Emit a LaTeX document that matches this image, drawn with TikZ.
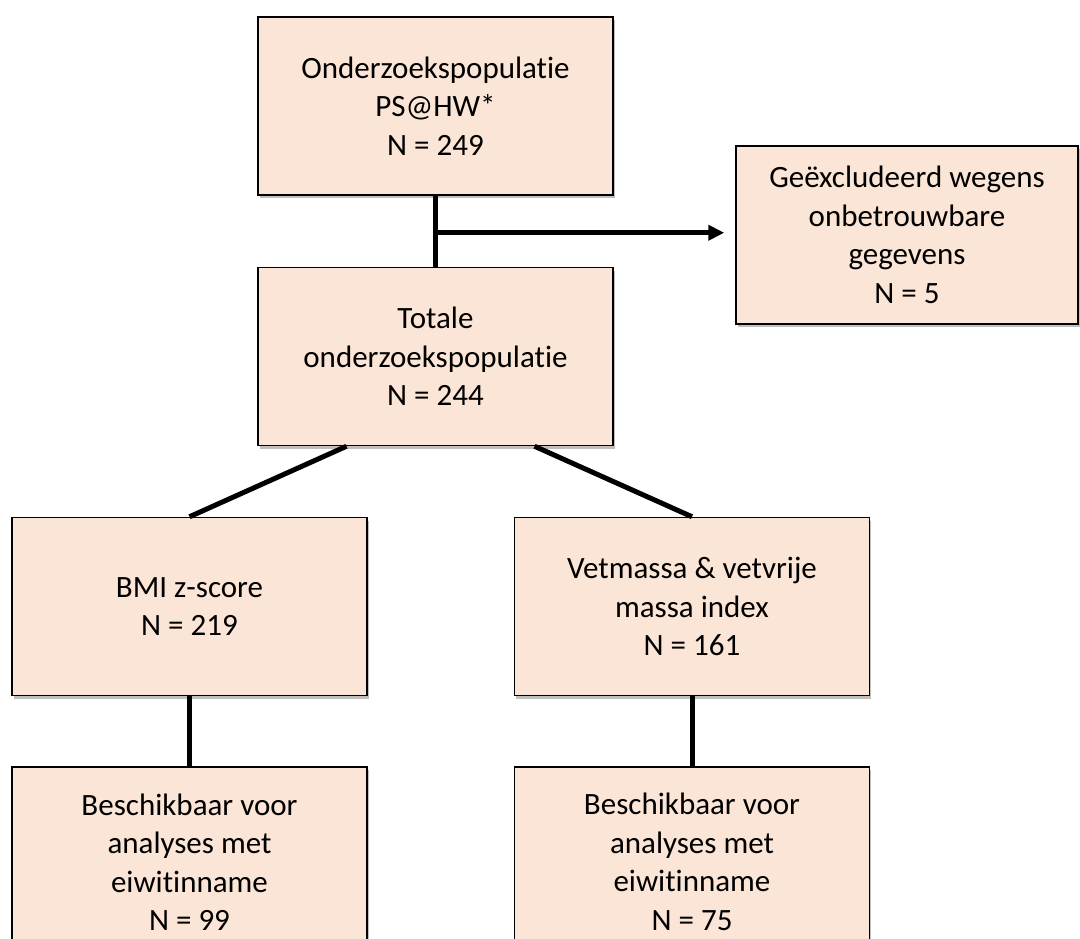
\documentclass[tikz,border=0pt]{standalone}
\usepackage{fontspec}
\setmainfont{Carlito}[Ligatures=NoCommon]
\usetikzlibrary{arrows.meta, positioning, shadows}
\definecolor{peach}{HTML}{FBE5D6}
\tikzset{
  box/.style={rectangle, draw, line width=1.5pt, fill=peach, align=center, inner sep=3pt,
    minimum width=355pt, minimum height=178pt, font=\fontsize{31}{38.5}\selectfont,
    drop shadow={shadow xshift=1.5pt, shadow yshift=-3pt, opacity=0.25, fill=black}},
  link/.style={line width=5pt},
  line/.style={line width=4.5pt, -{Triangle[length=16pt, width=15pt]}}
}

\begin{document}
\begin{tikzpicture}[node distance=71pt and 146pt]
    \useasboundingbox (0,0) rectangle (1080pt,-939pt);
    \node[box] (pop) at (435.5pt,-106pt) {Onderzoekspopulatie\\PS@HW*\\N = 249};
    \node[box, below=of pop] (tot) {Totale\\onderzoekspopulatie\\N = 244};
    \node[box, minimum width=342pt] (excl) at (907pt,-235pt) {Geëxcludeerd wegens\\onbetrouwbare\\gegevens\\N = 5};
    \node[box] (bmi) at (189.5pt,-606.5pt) {BMI z-score\\N = 219};
    \node[box, right=of bmi] (vet) {Vetmassa \& vetvrije\\massa index\\N = 161};
    \node[box, minimum height=190pt, below=70pt of bmi] (bmieiw) {Beschikbaar voor\\analyses met\\eiwitinname\\N = 99};
    \node[box, minimum height=190pt, below=70pt of vet] (veteiw) {Beschikbaar voor\\analyses met\\eiwitinname\\N = 75};
    \coordinate (split) at ([yshift=-37pt]pop.south);
    \draw[link] (pop) -- (tot);
    \draw[line] (split) -- ([xshift=-11pt]excl.west |- split);
    \draw[link] ([xshift=-89pt]tot.south) -- (bmi.north);
    \draw[link] ([xshift=99pt]tot.south) -- (vet.north);
    \draw[link] (bmi) -- (bmieiw);
    \draw[link] (vet) -- (veteiw);
  \end{tikzpicture}
\end{document}
